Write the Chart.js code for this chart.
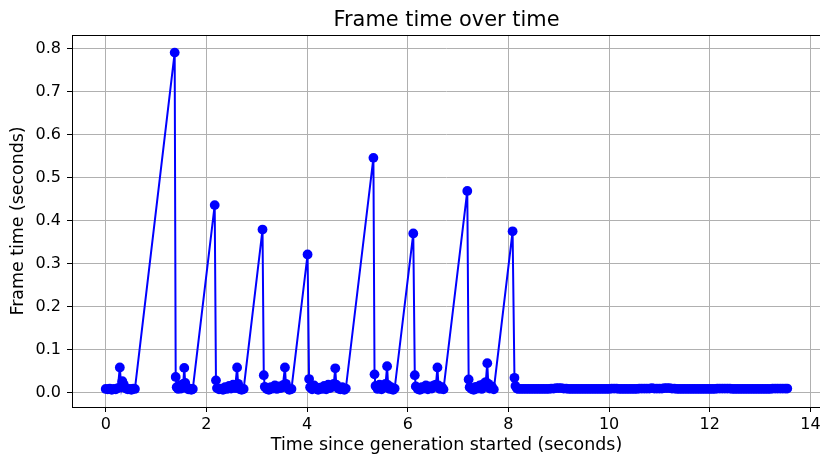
<!DOCTYPE html>
<html lang="en">
<head>
    <meta charset="UTF-8">
    <title>Frame time over time</title>
    <script src="https://cdn.jsdelivr.net/npm/chart.js"></script>
    <style>
        body {
            margin: 0;
            background-color: white;
            overflow: hidden;
        }
        .chart-box {
            width: 820px;
            height: 457px;
            overflow: hidden;
        }
    </style>
</head>
<body>
    <div class="chart-box">
        <canvas id="frameChart" width="840" height="457"></canvas>
    </div>
    <script>
        // time since start (s) for each frame, one row per burst, then the steady tail
        const times = [
            0.00, 0.04, 0.08, 0.12, 0.16, 0.20, 0.24, 0.28, 0.31, 0.33, 0.36, 0.40, 0.44, 0.48, 0.51, 0.55, 0.58, 1.37,
            1.39, 1.41, 1.44, 1.47, 1.50, 1.54, 1.56, 1.58, 1.61, 1.64, 1.67, 1.70, 1.73, 2.165,
            2.19, 2.21, 2.25, 2.29, 2.33, 2.37, 2.41, 2.45, 2.49, 2.53, 2.57, 2.61, 2.63, 2.66, 2.70, 2.74, 3.115,
            3.14, 3.16, 3.20, 3.24, 3.28, 3.32, 3.36, 3.40, 3.44, 3.48, 3.52, 3.56, 3.58, 3.62, 3.65, 3.69, 4.01,
            4.04, 4.06, 4.10, 4.14, 4.18, 4.22, 4.26, 4.30, 4.34, 4.38, 4.42, 4.46, 4.50, 4.53, 4.56, 4.58, 4.62, 4.66, 4.70, 4.74, 4.77, 5.318,
            5.34, 5.36, 5.40, 5.44, 5.48, 5.52, 5.56, 5.59, 5.61, 5.64, 5.67, 5.71, 5.74, 6.11,
            6.14, 6.16, 6.20, 6.24, 6.28, 6.32, 6.36, 6.40, 6.44, 6.48, 6.52, 6.56, 6.59, 6.61, 6.64, 6.68, 6.71, 7.183,
            7.21, 7.23, 7.27, 7.31, 7.35, 7.39, 7.43, 7.47, 7.51, 7.55, 7.58, 7.60, 7.63, 7.67, 7.71, 8.083,
            8.12, 8.14, 8.17,
            8.20, 8.25, 8.30, 8.35, 8.40, 8.45, 8.50, 8.55, 8.60, 8.65,
            8.70, 8.75, 8.80, 8.85, 8.90, 8.95, 9.00, 9.05, 9.10, 9.15,
            9.20, 9.25, 9.30, 9.35, 9.40, 9.45, 9.50, 9.55, 9.60, 9.65,
            9.70, 9.75, 9.80, 9.85, 9.90, 9.95, 10.00, 10.05, 10.10, 10.15,
            10.20, 10.25, 10.30, 10.35, 10.40, 10.45, 10.50, 10.55, 10.60, 10.65,
            10.70, 10.75, 10.80, 10.85, 10.90, 10.95, 11.00, 11.05, 11.10, 11.15,
            11.20, 11.25, 11.30, 11.35, 11.40, 11.45, 11.50, 11.55, 11.60, 11.65,
            11.70, 11.75, 11.80, 11.85, 11.90, 11.95, 12.00, 12.05, 12.10, 12.15,
            12.20, 12.25, 12.30, 12.35, 12.40, 12.45, 12.50, 12.55, 12.60, 12.65,
            12.70, 12.75, 12.80, 12.85, 12.90, 12.95, 13.00, 13.05, 13.10, 13.15,
            13.20, 13.25, 13.30, 13.35, 13.40, 13.45, 13.50, 13.54
        ];

        // frame time (s) for each entry above
        const frameTimes = [
            0.008, 0.007, 0.009, 0.006, 0.008, 0.007, 0.010, 0.058, 0.012, 0.026, 0.018, 0.009, 0.007, 0.008, 0.006, 0.009, 0.008, 0.791,
            0.036, 0.012, 0.008, 0.016, 0.009, 0.020, 0.057, 0.022, 0.010, 0.007, 0.009, 0.006, 0.008, 0.436,
            0.028, 0.010, 0.007, 0.009, 0.006, 0.012, 0.008, 0.015, 0.009, 0.018, 0.010, 0.058, 0.020, 0.008, 0.006, 0.008, 0.379,
            0.040, 0.013, 0.008, 0.006, 0.012, 0.009, 0.016, 0.008, 0.014, 0.010, 0.017, 0.058, 0.020, 0.009, 0.006, 0.008, 0.321,
            0.031, 0.012, 0.007, 0.016, 0.009, 0.006, 0.011, 0.008, 0.015, 0.007, 0.018, 0.010, 0.014, 0.020, 0.056, 0.018, 0.009, 0.007, 0.012, 0.006, 0.009, 0.546,
            0.042, 0.015, 0.008, 0.018, 0.007, 0.012, 0.020, 0.061, 0.017, 0.008, 0.012, 0.006, 0.009, 0.370,
            0.040, 0.014, 0.008, 0.006, 0.012, 0.009, 0.016, 0.007, 0.014, 0.009, 0.016, 0.018, 0.058, 0.016, 0.008, 0.012, 0.007, 0.469,
            0.030, 0.012, 0.008, 0.006, 0.013, 0.009, 0.016, 0.008, 0.020, 0.024, 0.068, 0.020, 0.009, 0.014, 0.007, 0.375,
            0.034, 0.015, 0.009,
            0.008, 0.008, 0.008, 0.008, 0.008, 0.008, 0.008, 0.008, 0.008, 0.008,
            0.008, 0.008, 0.008, 0.009, 0.009, 0.010, 0.010, 0.010, 0.009, 0.009,
            0.008, 0.008, 0.008, 0.008, 0.008, 0.008, 0.008, 0.008, 0.008, 0.008,
            0.008, 0.008, 0.008, 0.008, 0.008, 0.008, 0.008, 0.009, 0.009, 0.009,
            0.008, 0.008, 0.008, 0.008, 0.008, 0.008, 0.008, 0.008, 0.009, 0.009,
            0.009, 0.009, 0.009, 0.010, 0.009, 0.009, 0.009, 0.009, 0.010, 0.010,
            0.010, 0.009, 0.009, 0.008, 0.008, 0.008, 0.008, 0.008, 0.008, 0.008,
            0.008, 0.008, 0.008, 0.008, 0.008, 0.008, 0.008, 0.008, 0.008, 0.009,
            0.009, 0.009, 0.009, 0.009, 0.009, 0.008, 0.008, 0.008, 0.008, 0.008,
            0.008, 0.008, 0.008, 0.008, 0.008, 0.008, 0.008, 0.008, 0.008, 0.008,
            0.008, 0.009, 0.009, 0.009, 0.009, 0.009, 0.009, 0.009
        ];

        const xTicks = [0, 2, 4, 6, 8, 10, 12, 14];
        const yTicks = [0.0, 0.1, 0.2, 0.3, 0.4, 0.5, 0.6, 0.7, 0.8];

        Chart.defaults.font.family = "'DejaVu Sans', sans-serif";
        Chart.defaults.color = '#000';

        // black box round the plot area, drawn over the line
        const frameBox = {
            id: 'frameBox',
            afterDatasetsDraw(chart) {
                const { ctx, chartArea } = chart;
                ctx.save();
                ctx.strokeStyle = '#000';
                ctx.lineWidth = 1;
                ctx.strokeRect(Math.round(chartArea.left) + 0.5, Math.round(chartArea.top) + 0.5,
                    Math.round(chartArea.right - chartArea.left), Math.round(chartArea.bottom - chartArea.top));
                ctx.restore();
            }
        };

        const gridOpts = {
            color: '#b0b0b0',
            lineWidth: 1,
            tickColor: '#000',
            tickLength: 5,
            tickWidth: 1
        };

        new Chart(document.getElementById('frameChart'), {
            type: 'line',
            data: {
                datasets: [{
                    data: times.map((t, i) => ({ x: t, y: frameTimes[i] })),
                    borderColor: '#0000ff',
                    backgroundColor: '#0000ff',
                    borderWidth: 2,
                    pointRadius: 4.9,
                    pointBorderWidth: 0,
                    pointBackgroundColor: '#0000ff',
                    tension: 0
                }]
            },
            options: {
                responsive: false,
                animation: false,
                devicePixelRatio: 1,
                layout: { padding: { left: 0, right: 19, top: 0, bottom: 0 } },
                plugins: {
                    legend: { display: false },
                    tooltip: { enabled: false },
                    title: {
                        display: true,
                        fullSize: false,
                        text: 'Frame time over time',
                        color: '#000',
                        font: { size: 20.9, weight: 'normal' },
                        padding: { top: 8, bottom: 1.9 }
                    }
                },
                scales: {
                    x: {
                        type: 'linear',
                        min: -0.67,
                        max: 14.21,
                        afterBuildTicks: s => { s.ticks = xTicks.map(v => ({ value: v })); },
                        afterFit: s => { s.height = 50; },
                        ticks: {
                            color: '#000',
                            font: { size: 16 },
                            padding: 3,
                            maxRotation: 0,
                            autoSkip: false
                        },
                        grid: gridOpts,
                        border: { display: false },
                        title: {
                            display: true,
                            text: 'Time since generation started (seconds)',
                            color: '#000',
                            font: { size: 17.4 },
                            padding: { top: 0, bottom: 1 }
                        }
                    },
                    y: {
                        min: -0.034,
                        max: 0.832,
                        afterBuildTicks: s => { s.ticks = yTicks.map(v => ({ value: v })); },
                        afterFit: s => { s.width = 72; },
                        ticks: {
                            color: '#000',
                            font: { size: 16 },
                            padding: 6,
                            callback: v => v.toFixed(1)
                        },
                        grid: gridOpts,
                        border: { display: false },
                        title: {
                            display: true,
                            text: 'Frame time (seconds)',
                            color: '#000',
                            font: { size: 17.4 },
                            padding: { top: 8, bottom: 0 }
                        }
                    }
                }
            },
            plugins: [frameBox]
        });
    </script>
</body>
</html>
